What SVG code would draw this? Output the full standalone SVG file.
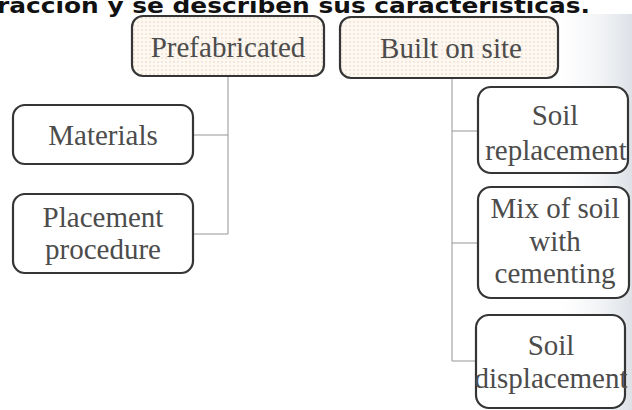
<svg xmlns="http://www.w3.org/2000/svg" width="632" height="410" viewBox="0 0 632 410">
<defs>
<pattern id="dots" width="4" height="4" patternUnits="userSpaceOnUse">
<rect width="4" height="4" fill="#fdf8f1"/>
<circle cx="2" cy="2" r="0.8" fill="#ead2bd"/>
</pattern>
<linearGradient id="shade" x1="0" y1="0" x2="1" y2="0">
<stop offset="0" stop-color="#ffffff" stop-opacity="0"/>
<stop offset="1" stop-color="#d9dee4" stop-opacity="0.9"/>
</linearGradient>
<style>
.box{fill:#fff;stroke:#353535;stroke-width:2.2}
.top{fill:url(#dots);stroke:#353535;stroke-width:2.2}
.lbl{font-family:"Liberation Serif","Times New Roman",serif;font-size:29px;fill:#4c4c4c;text-anchor:middle}
.conn{stroke:#959595;stroke-width:1;fill:none}
</style>
</defs>
<rect width="632" height="410" fill="#fff"/>
<rect x="545" y="14" width="87" height="396" fill="url(#shade)"/>
<text x="-3" y="13" font-family="DejaVu Sans,Verdana,sans-serif" font-size="21" font-weight="bold" fill="#111" textLength="593" lengthAdjust="spacingAndGlyphs">racción y se describen sus características.</text>
<g id="connectors">
<path class="conn" d="M228 76 V234 M193 135 H228 M193 234 H228"/>
<path class="conn" d="M452 78 V361 M452 131 H478 M452 243 H478 M452 361 H476"/>
</g>
<g id="prefabricated">
<rect class="top" x="132" y="16" width="192" height="60" rx="11"/>
<text class="lbl" x="228" y="57">Prefabricated</text>
</g>
<g id="built-on-site">
<rect class="top" x="340" y="17" width="218" height="61" rx="11"/>
<text class="lbl" x="451" y="58">Built on site</text>
</g>
<g id="materials">
<rect class="box" x="13" y="105" width="180" height="59" rx="12"/>
<text class="lbl" x="103" y="145">Materials</text>
</g>
<g id="placement-procedure">
<rect class="box" x="13" y="194" width="180" height="79" rx="12"/>
<text class="lbl" x="103" y="227">Placement</text>
<text class="lbl" x="103" y="259">procedure</text>
</g>
<g id="soil-replacement">
<rect class="box" x="478" y="87" width="150" height="86" rx="13"/>
<text class="lbl" x="555" y="125">Soil</text>
<text class="lbl" x="556" y="160">replacement</text>
</g>
<g id="mix-of-soil">
<rect class="box" x="478" y="187" width="151" height="111" rx="13"/>
<text class="lbl" x="555" y="218">Mix of soil</text>
<text class="lbl" x="555" y="251">with</text>
<text class="lbl" x="555" y="283">cementing</text>
</g>
<g id="soil-displacement">
<rect class="box" x="476" y="315" width="149" height="93" rx="13"/>
<text class="lbl" x="551" y="355">Soil</text>
<text class="lbl" x="551" y="388">displacement</text>
</g>
</svg>
